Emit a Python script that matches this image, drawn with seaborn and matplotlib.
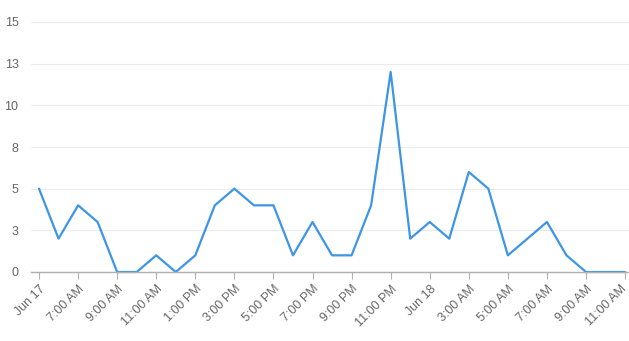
import matplotlib
matplotlib.use("Agg")
import matplotlib.pyplot as plt
import matplotlib.transforms as mtransforms
import seaborn as sns
import pandas as pd

hours = list(range(31))
values = [5, 2, 4, 3, 0, 0, 1, 0, 1, 4, 5, 4, 4, 1, 3, 1, 1, 4, 12, 2, 3, 2, 6, 5, 1, 2, 3, 1, 0, 0, 0]
tick_labels = ["Jun 17", "7:00 AM", "9:00 AM", "11:00 AM", "1:00 PM", "3:00 PM", "5:00 PM",
               "7:00 PM", "9:00 PM", "11:00 PM", "Jun 18", "3:00 AM", "5:00 AM", "7:00 AM",
               "9:00 AM", "11:00 AM"]
y_ticks = [0, 2.5, 5, 7.5, 10, 12.5, 15]
y_tick_labels = ["0", "3", "5", "8", "10", "13", "15"]

sns.set_style("white")
plt.rcParams['font.family'] = ['Liberation Sans', 'DejaVu Sans']

df = pd.DataFrame({"hour": hours, "count": values})

fig = plt.figure(figsize=(6.29, 3.41), dpi=100)
W, H = 629, 341
ax = fig.add_axes([31 / W, (H - 272) / H, (629 - 31) / W, (272 - 22) / H])

sns.lineplot(data=df, x="hour", y="count", ax=ax, color="#3d95e6", linewidth=1.6, clip_on=False)

ax.set_xlim(-0.41, 30.2)
ax.set_ylim(0, 15)
ax.set_yticks(y_ticks)
ax.set_yticklabels(y_tick_labels)
ax.set_xticks(list(range(0, 31, 2)))
ax.set_xticklabels(tick_labels, rotation=45, ha="right", rotation_mode="anchor")
ax.set_xlabel("")
ax.set_ylabel("")

ax.grid(axis="y", color="#ebebeb", linewidth=0.8)
ax.set_axisbelow(True)
for s in ["top", "right", "left"]:
    ax.spines[s].set_visible(False)
ax.spines["bottom"].set_color("#b0b0b0")
ax.spines["bottom"].set_linewidth(1)

ax.tick_params(axis="y", length=0, pad=9, labelsize=9, labelcolor="#666666")
ax.tick_params(axis="x", length=5, width=0.8, color="#b0b0b0", pad=3, labelsize=9, labelcolor="#666666",
               direction="out", bottom=True)

# nudge the last label slightly left so it stays inside the canvas
last = ax.get_xticklabels()[-1]
last.set_transform(last.get_transform() + mtransforms.ScaledTranslation(-5 / 100, 0, fig.dpi_scale_trans))

fig.savefig("out.png", dpi=100)
